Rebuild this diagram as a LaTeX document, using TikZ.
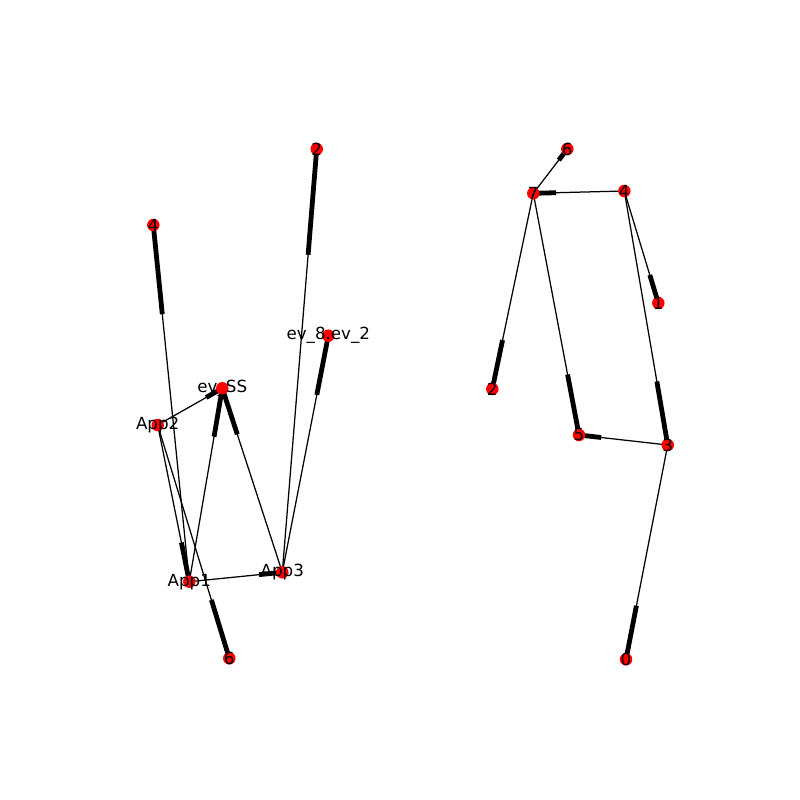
\documentclass[tikz,border=0pt]{standalone}
\usepackage{fontspec}
\setmainfont{DejaVu Sans}
\usetikzlibrary{calc,backgrounds}
\tikzset{
  vertex/.style={circle,fill=red,inner sep=0pt,minimum size=12.5pt},
  every label/.style={font=\fontsize{16.7}{20}\selectfont,inner sep=0pt},
  edge/.style={line width=1.25pt},
  head/.style={line width=4.8pt},
}
% edge with its thick end near the target
\newcommand{\edgeto}[2]{%
  \begin{pgfonlayer}{background}
  \draw[edge] (#1.center) -- (#2.center);
  \draw[head] ($(#1.center)!0.75!(#2.center)$) -- (#2.center);
  \end{pgfonlayer}}
\begin{document}
\begin{tikzpicture}[x=1pt,y=-1pt]
	\useasboundingbox (0,0) rectangle (800,800);

	%left graph
	\node[vertex,label={center:4}] (L4) at (153.3,225) {};
	\node[vertex,label={center:2}] (L2) at (316.7,149) {};
	\node[vertex,label={center:ev\_8.ev\_2}] (Lev8) at (328.3,335.7) {};
	\node[vertex,label={center:ev\_SS}] (LevSS) at (222.3,388.3) {};
	\node[vertex,label={center:App2}] (App2) at (157.7,425) {};
	\node[vertex,label={center:App1}] (App1) at (189.3,581.7) {};
	\node[vertex,label={center:App3}] (App3) at (282.3,572.3) {};
	\node[vertex,label={center:6}] (L6) at (229.3,658.3) {};
	%%% arcs
	\edgeto{App1}{L4}
	\edgeto{App3}{L2}
	\edgeto{App3}{Lev8}
	\edgeto{App3}{LevSS}
	\edgeto{App1}{LevSS}
	\edgeto{App2}{LevSS}
	\edgeto{App2}{App1}
	\edgeto{App2}{L6}
	\edgeto{App1}{App3}

	%right graph
	\node[vertex,label={center:6}] (R6) at (567.3,149) {};
	\node[vertex,label={center:7}] (R7) at (533.3,193.3) {};
	\node[vertex,label={center:4}] (R4) at (624.3,191) {};
	\node[vertex,label={center:1}] (R1) at (658.3,303) {};
	\node[vertex,label={center:2}] (R2) at (492.3,389) {};
	\node[vertex,label={center:5}] (R5) at (579,435) {};
	\node[vertex,label={center:3}] (R3) at (667.7,445) {};
	\node[vertex,label={center:0}] (R0) at (626,659.3) {};
	%%% arcs
	\edgeto{R7}{R6}
	\edgeto{R4}{R7}
	\edgeto{R4}{R1}
	\edgeto{R7}{R2}
	\edgeto{R7}{R5}
	\edgeto{R4}{R3}
	\edgeto{R3}{R5}
	\edgeto{R3}{R0}
\end{tikzpicture}
\end{document}
